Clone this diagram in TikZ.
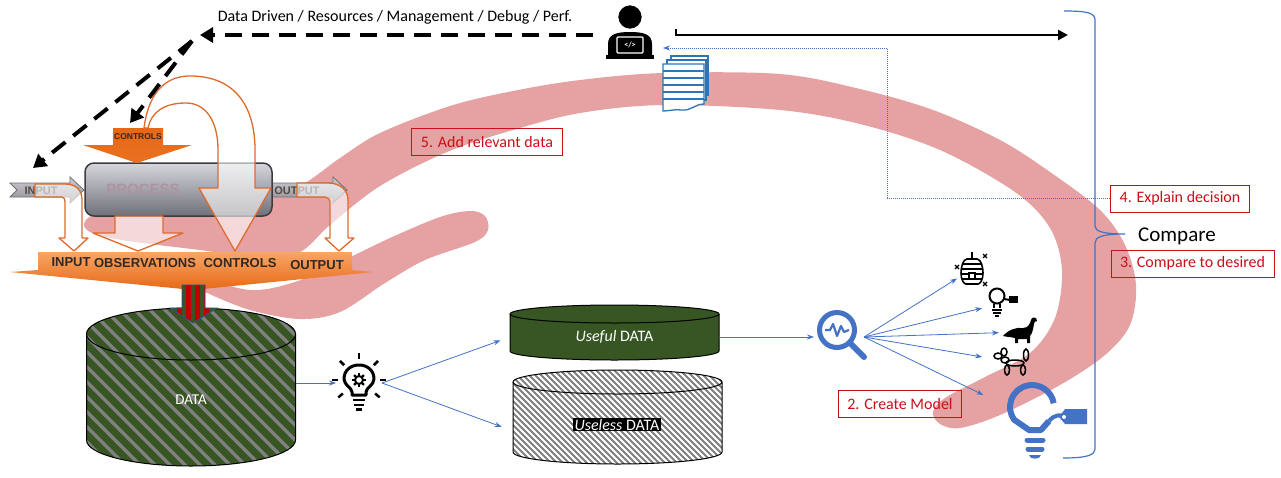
\documentclass[tikz,border=0pt]{standalone}
\usepackage{fontspec}
\setmainfont{Carlito}
\newfontfamily\idefFont{Liberation Sans}
\usepackage{tikz}
\usetikzlibrary{arrows.meta,shapes,backgrounds,calc}

\definecolor{bandPink}{RGB}{230,161,163}
\definecolor{flowBlue}{RGB}{68,114,196}
\definecolor{docBlue}{RGB}{46,117,182}
\definecolor{stepRed}{RGB}{200,16,24}
\definecolor{dataGreen}{RGB}{55,86,35}
\definecolor{stripeGray}{RGB}{128,128,128}
\definecolor{stripeRed}{RGB}{192,0,0}
\definecolor{stripeEdge}{RGB}{47,82,143}
\definecolor{idefText}{RGB}{52,40,34}
\definecolor{hollowOrange}{RGB}{222,106,44}
\definecolor{orangeLight}{RGB}{248,166,102}
\definecolor{orangeDark}{RGB}{230,104,22}
\definecolor{boxTop}{RGB}{214,214,220}
\definecolor{boxBottom}{RGB}{112,112,122}
\definecolor{boxEdge}{RGB}{60,60,64}
\definecolor{processText}{RGB}{172,148,160}
\definecolor{grayLight}{RGB}{205,205,210}
\definecolor{grayDark}{RGB}{140,140,148}

\tikzset{
  flowArrow/.style={draw=flowBlue, line width=0.8pt, -{Stealth[length=7pt,width=5pt]}},
  dashArrow/.style={line width=4pt, dash pattern=on 17pt off 10pt, -{Triangle[length=13pt,width=15pt]}},
  stepLabel/.style={draw=stepRed, line width=1pt, text=stepRed, inner xsep=9pt, inner ysep=0pt,
    minimum height=27pt, font=\fontsize{16}{19}\selectfont},
  iconBox/.style={inner sep=0pt, outer sep=0pt},
  hollowArrow/.style={draw=hollowOrange, line width=1.3pt, fill=white, fill opacity=0.6, line join=round},
  idefLabel/.style={font=\idefFont\bfseries\fontsize{13}{15}\selectfont, text=idefText, inner sep=0pt},
  smallLabel/.style={font=\idefFont\bfseries\fontsize{11}{13}\selectfont, text=idefText!85, inner sep=0pt},
}

\begin{document}
\begin{tikzpicture}[x=1pt,y=-1pt]
    \useasboundingbox (0,0) rectangle (1281,477);
    \fill[white] (0,0) rectangle (1281,477);
    \def\showSwoosh{
      % big curled band in the back
      \fill[bandPink] plot[smooth cycle, tension=0.55] coordinates {
        (84,224) (95,215) (140,213) (200,212) (250,205) (300,186) (340,158)
        (380,133) (450,106) (513,91) (580,80) (663,73) (780,74) (860,89)
        (933,110) (1000,140) (1050,172) (1100,210) (1125,245) (1136,285)
        (1130,325) (1105,355) (1060,385) (1000,415) (960,428) (940,424)
        (933,412) (945,398) (985,377) (1030,353) (1055,318) (1062,270)
        (1050,228) (1015,192) (940,150) (860,124) (780,110) (663,105)
        (580,113) (513,130) (447,152) (380,186) (330,225) (300,252)
        (260,258) (200,250) (150,244) (110,238) (90,232)};
      % lower hook
      \fill[bandPink] plot[smooth cycle, tension=0.55] coordinates {
        (195,276) (250,290) (295,282) (340,262) (390,238) (440,217)
        (470,211) (485,216) (488,230) (475,242) (425,260) (385,283)
        (340,312) (300,319) (250,310) (205,292) (190,283)};
    }
    \def\showSteps{
      \node[font=\fontsize{16}{19}\selectfont, inner sep=0pt] (ddText) at (395,17)
        {Data Driven / Resources / Management / Debug / Perf.};
      \node[stepLabel] (addData) at (487,142) {5. Add relevant data};
      \node[stepLabel] (explain) at (1180,198.5) {4. Explain decision};
      \node[stepLabel] (cmpDesired) at (1192.5,263.5) {3. Compare to desired};
      \node[stepLabel] (createModel) at (900,404) {2. Create Model};
      \node[font=\fontsize{21}{25}\selectfont, inner sep=0pt] (compare) at (1177,236) {Compare};
      % brace
      \draw[flowBlue, line width=1.2pt] (1064,11) .. controls (1088,11) and (1095,13) .. (1095,20)
        -- (1095,226) .. controls (1095,231) and (1102,234) .. (1125,234)
        .. controls (1102,234) and (1095,237) .. (1095,243) -- (1095,449)
        .. controls (1095,455) and (1087,458) .. (1063,458);
    }
    \def\showIdef{
      % input / output arrows
      \shadedraw[top color=grayLight, bottom color=grayDark, draw=grayDark!80!black, line width=0.8pt]
        (10,183) -- (70,183) -- (70,177) -- (84,190) -- (70,203) -- (70,197) -- (10,197) -- (17,190) -- cycle;
      \shadedraw[top color=grayLight, bottom color=grayDark, draw=grayDark!80!black, line width=0.8pt]
        (272,183) -- (333,183) -- (333,177) -- (347,190) -- (333,203) -- (333,197) -- (272,197) -- cycle;
      \node[smallLabel] (inLabel) at (41,191) {INPUT};
      \node[smallLabel] (outLabel) at (297,191) {OUTPUT};
      % process block
      \shadedraw[rounded corners=9pt, top color=boxTop, bottom color=boxBottom, draw=boxEdge, line width=1.5pt]
        (85,163) rectangle (272,216);
      \node[font=\idefFont\bfseries\fontsize{15}{17}\selectfont, text=processText, inner sep=0pt]
        (process) at (143,189) {PROCESS};
      % controls from above
      \shade[top color=orangeDark, bottom color=orangeDark!85!orangeLight]
        (113,128) -- (163,128) -- (163,145) -- (192,145) -- (137,163) -- (83,145) -- (113,145) -- cycle;
      \node[font=\idefFont\bfseries\fontsize{8.5}{10}\selectfont, text=idefText, inner sep=0pt]
        (ctrlSmall) at (138,136.5) {CONTROLS};
      % collecting band
      \shade[top color=orangeLight, bottom color=orangeDark]
        (38,252) -- (352,252) -- (352,270) -- (373,272) -- (193,290) -- (10,272) -- (38,270) -- cycle;
      \node[idefLabel] (inBand) at (71,262) {INPUT};
      \node[idefLabel] (obsBand) at (145,263) {OBSERVATIONS};
      \node[idefLabel] (ctrlBand) at (240,263) {CONTROLS};
      \node[idefLabel] (outBand) at (317,265) {OUTPUT};
      % hollow arrows into the band
      \path[hollowArrow] (35,184) -- (65,184) .. controls (76,184) and (82,190) .. (82,200) -- (82,238)
        -- (88,238) -- (74,251) -- (59,238) -- (65,238) -- (65,202) .. controls (65,199) and (64,197) .. (62,197)
        -- (35,197) -- cycle;
      \path[hollowArrow] (115,216) -- (163,216) -- (163,233) -- (183,233) -- (138,251) -- (93,233) -- (115,233) -- cycle;
      \path[hollowArrow] (144,128) .. controls (150,82) and (175,76) .. (190,76) .. controls (238,76) and (255,110) .. (255,150)
        -- (255,188) -- (271,188) -- (235,251) -- (199,188) -- (218,188) -- (218,150)
        .. controls (218,120) and (205,103) .. (186,103) .. controls (163,103) and (151,113) .. (148,128) -- cycle;
      \path[hollowArrow] (297,183) -- (328,183) .. controls (340,183) and (348,190) .. (348,200) -- (348,238)
        -- (354,238) -- (339,251) -- (325,238) -- (330,238) -- (330,203) .. controls (330,199) and (328,197) .. (325,197)
        -- (297,197) -- cycle;
    }
    \def\showData{
      % raw data store
      \begin{scope}
        \clip (86.5,334) -- (86.5,440) arc[start angle=180, end angle=0, x radius=104.5, y radius=26]
          -- (295.5,334) arc[start angle=0, end angle=-180, x radius=104.5, y radius=26] -- cycle;
        \fill[dataGreen] (80,300) rectangle (300,470);
        \foreach \k in {-100,-85,...,300}
          \draw[stripeGray, line width=3.5pt] (\k,300) -- ++(180,180);
      \end{scope}
      \draw[line width=1pt] (86.5,334) -- (86.5,440) arc[start angle=180, end angle=0, x radius=104.5, y radius=26]
        -- (295.5,334) arc[start angle=0, end angle=-180, x radius=104.5, y radius=26] -- cycle;
      \draw[line width=1pt] (86.5,334) arc[start angle=180, end angle=0, x radius=104.5, y radius=26];
      \node[iconBox, minimum width=209pt, minimum height=132pt, text=white, font=\fontsize{15}{18}\selectfont]
        (data) at (191,400) {DATA};
      % feed arrow into the store
      \begin{scope}
        \clip (182,285) -- (205,285) -- (205,308) -- (217,308) -- (193,323) -- (170,308) -- (182,308) -- cycle;
        \fill[dataGreen] (165,280) rectangle (220,325);
        \foreach \x in {177,186,195,204}
          \fill[stripeRed] (\x,280) rectangle (\x+4.5,325);
      \end{scope}
      \draw[stripeEdge, line width=0.8pt] (182,285) -- (205,285) -- (205,308) -- (217,308) -- (193,323)
        -- (170,308) -- (182,308) -- cycle;
      % useful store
      \filldraw[fill=dataGreen, line width=1pt] (510,314) -- (510,351)
        arc[start angle=180, end angle=0, x radius=104.5, y radius=9]
        -- (719,314) arc[start angle=0, end angle=-180, x radius=104.5, y radius=9] -- cycle;
      \draw[line width=1pt] (510,314) arc[start angle=180, end angle=0, x radius=104.5, y radius=9];
      \node[iconBox, minimum width=209pt, minimum height=55pt, text=white, font=\fontsize{16}{19}\selectfont]
        (useful) at (614.5,337) {\textit{Useful} DATA};
      % useless store
      \begin{scope}
        \clip (513,382) -- (513,452) arc[start angle=180, end angle=0, x radius=104.5, y radius=12]
          -- (722,382) arc[start angle=0, end angle=-180, x radius=104.5, y radius=12] -- cycle;
        \fill[white] (505,365) rectangle (730,470);
        \foreach \k in {-110,-104,...,730}
          \draw[stripeGray, line width=1.8pt] (\k,360) -- ++(115,115);
      \end{scope}
      \draw[line width=1pt] (513,382) -- (513,452) arc[start angle=180, end angle=0, x radius=104.5, y radius=12]
        -- (722,382) arc[start angle=0, end angle=-180, x radius=104.5, y radius=12] -- cycle;
      \draw[line width=1pt] (513,382) arc[start angle=180, end angle=0, x radius=104.5, y radius=12];
      \node[iconBox, minimum width=209pt, minimum height=82pt] (uselessCyl) at (617.5,417) {};
      \node[fill=black, text=white, inner xsep=2pt, inner ysep=1pt, font=\fontsize{16}{19}\selectfont]
        (useless) at (617,424.5) {\textit{Useless} DATA};
    }
    \def\showIcons{
      % coder at the laptop
      \node[iconBox, minimum width=48pt, minimum height=56pt] (coder) at (630,31) {};
      \begin{scope}[shift={(coder.center)}]
        \fill (-22,25) -- (-22,13) .. controls (-22,3) and (-13,1) .. (0,1) .. controls (13,1) and (22,3) .. (22,13) -- (22,25) -- cycle;
        \filldraw[draw=white, line width=1.5pt] (0,-14) circle (12.5);
        \draw[white, line width=1.2pt, rounded corners=1pt] (-13,6) rectangle (13,22);
        \node[text=white, font=\bfseries\fontsize{8}{8}\selectfont, inner sep=0pt] (coderGlyph) at (0,14) {</>};
        \fill (-24,23.5) rectangle (24,28);
      \end{scope}
      % report pages
      \node[iconBox, minimum width=46pt, minimum height=56pt] (docs) at (685,83) {};
      \begin{scope}[shift={(docs.center)}, docBlue, line width=1.3pt]
        \filldraw[fill=white] (-14,-27) rectangle (23,12);
        \filldraw[fill=white] (-18,-23) rectangle (21,17);
        \filldraw[fill=white] (-22,-19) -- (19,-19) -- (19,21) .. controls (10,21) and (6,28) .. (-3,27)
          .. controls (-10,26) and (-16,28) .. (-22,28) -- cycle;
        \foreach \y in {-12,-5,2,9,16}
          \draw (-22,\y) -- (19,\y);
      \end{scope}
      % idea with gear
      \node[iconBox, minimum width=46pt, minimum height=60pt] (ideaGear) at (359,383) {};
      \begin{scope}[shift={(ideaGear.center)}]
        \draw[line width=3pt, line join=round] (-7,12) -- (-7,9) .. controls (-7,5) and (-15,2) .. (-15,-4)
          .. controls (-15,-13) and (-8,-18) .. (0,-18) .. controls (8,-18) and (15,-13) .. (15,-4)
          .. controls (15,2) and (7,5) .. (7,9) -- (7,12) -- cycle;
        \draw[line width=2.5pt] (-6,17) -- (6,17) (-5,22) -- (5,22);
        \fill (-3,25) rectangle (3,28);
        \begin{scope}[shift={(0,-3)}]
          \foreach \a in {0,45,90,135,180,220,320}
            \draw[line width=2.5pt] (-\a:21) -- (-\a:27);
          \draw[line width=2pt] (0,0) circle (4);
          \foreach \a in {0,45,...,315}
            \draw[line width=2.2pt] (\a:4) -- (\a:7);
        \end{scope}
      \end{scope}
      % model inspection
      \node[iconBox, minimum size=44pt] (magnif) at (842,337) {};
      \begin{scope}[shift={(magnif.center)}, flowBlue]
        \draw[line width=5pt] (-5,-7) circle (17.5);
        \draw[line width=6pt, line cap=round] (8,6) -- (22,20);
        \draw[line width=2.2pt, line join=round] (-17,-7) -- (-12,-7) -- (-9,-13) -- (-5,-1) -- (-1,-11) -- (2,-5) -- (7,-7);
      \end{scope}
      % candidate outcomes
      \node[iconBox, minimum width=30pt, minimum height=36pt] (hive) at (972,269) {};
      \begin{scope}[shift={(hive.center)}, line width=1.6pt]
        \draw (0,-17) -- (0,-10);
        \begin{scope}
          \clip (-5,-10) -- (5,-10) .. controls (9,-10) and (11,-2) .. (11,4) .. controls (11,11) and (8,15) .. (6,15)
            -- (-6,15) .. controls (-8,15) and (-11,11) .. (-11,4) .. controls (-11,-2) and (-9,-10) .. (-5,-10) -- cycle;
          \foreach \y in {-5,0,5,10}
            \draw (-12,\y) -- (12,\y);
        \end{scope}
        \draw (-5,-10) -- (5,-10) .. controls (9,-10) and (11,-2) .. (11,4) .. controls (11,11) and (8,15) .. (6,15)
          -- (-6,15) .. controls (-8,15) and (-11,11) .. (-11,4) .. controls (-11,-2) and (-9,-10) .. (-5,-10) -- cycle;
        \filldraw[fill=white] (-3,4) rectangle (3,10);
        \foreach \p in {(-15,-2),(13,-13),(13,15)}
          \draw[line width=1.2pt, shift={\p}] (-2,-2) -- (2,2) (-2,2) -- (2,-2);
      \end{scope}
      \node[iconBox, minimum width=30pt, minimum height=32pt] (smallBulb) at (1003,303) {};
      \begin{scope}[shift={(smallBulb.center)}, line width=2pt]
        \draw (-6,-7) circle (7.5);
        \draw (-9,1) -- (-9,5) (-3,1) -- (-3,5);
        \draw (-11,7) -- (-1,7) (-10,10) -- (-2,10) (-8,13) -- (-4,13);
        \draw (1,-4) -- (7,-3);
        \fill (6,-7) rectangle (15,0);
      \end{scope}
      \node[iconBox, minimum width=36pt, minimum height=26pt] (dino) at (1020,332) {};
      \begin{scope}[shift={(dino.center)}]
        \fill (-17,4) .. controls (-12,-2) and (-4,-5) .. (3,-4) .. controls (8,-4) and (10,-8) .. (11,-12)
          .. controls (12,-15) and (14,-15) .. (16,-14) -- (17,-11) .. controls (15,-11) and (14,-10) .. (14,-8)
          .. controls (13,-2) and (12,2) .. (10,4) -- (10,11) -- (7,11) -- (7,7) -- (-2,7) -- (-2,11) -- (-5,11)
          -- (-5,6) .. controls (-9,5) and (-13,5) .. (-17,4) -- cycle;
      \end{scope}
      \node[iconBox, minimum width=40pt, minimum height=30pt] (balloon) at (1012,362) {};
      \begin{scope}[shift={(balloon.center)}, line width=1.5pt]
        \draw (-14,-6) ellipse (4 and 3);
        \draw (-8,-10) ellipse (3 and 4);
        \draw (-7,-2) ellipse (4 and 3);
        \draw (3,1) ellipse (9 and 3);
        \draw (-5,8) ellipse (2.5 and 5);
        \draw (11,8) ellipse (2.5 and 5);
        \draw (14,-7) ellipse (2.5 and 6);
      \end{scope}
      \node[iconBox, minimum width=60pt, minimum height=82pt] (bigBulb) at (1035,420) {};
      \begin{scope}[shift={(bigBulb.center)}, flowBlue]
        \draw[line width=6pt, line join=round] (18.7,-16.8) arc[start angle=-10, end angle=-215, radius=22]
          -- (-6,10) -- (6,10) -- (13.9,1.1);
        \draw[line width=5pt, line cap=round] (-8,20) -- (8,20) (-7,29) -- (7,29);
        \fill (-6,35) -- (6,35) .. controls (6,40) and (-6,40) .. (-6,35) -- cycle;
        \draw[line width=4pt] (13.9,1.1) .. controls (20,-6) and (25,-5) .. (30,-4);
        \fill (30,-11) -- (52,-11) -- (52,4) -- (30,4) -- (24,-3) -- cycle;
        \fill[white] (29,-3) circle (2);
      \end{scope}
    }
    \def\showLinks{
      \coordinate (hub) at (200,35);
      \coordinate (hubFoot) at (192,41);
      \coordinate (inTarget) at (33,168);
      \coordinate (ctrlTarget) at (130,123);
      \coordinate (codeTick) at (676,29);
      \coordinate (cmpTop) at (1068,35);
      \coordinate (fbCorner) at (887,48);
      \coordinate (fbTip) at (663,48);
      % dashed feedback to the process
      \draw[dashArrow, shorten <=13pt] (coder.west |- hub) -- (hub);
      \draw[dashArrow] (hubFoot) -- (inTarget);
      \draw[dashArrow] (hubFoot) -- (ctrlTarget);
      % output of the coder
      \draw[line width=2.5pt, -{Triangle[length=10pt,width=10pt]}] (codeTick) |- (cmpTop);
      \draw[flowBlue, line width=1pt, dash pattern=on 1pt off 1pt, -{Stealth[length=7pt,width=5pt]}]
        (explain.west) -| (fbCorner) -- (fbTip);
      % data flow
      \draw[flowArrow] (data.east |- ideaGear.west) -- (ideaGear.west);
      \draw[flowArrow, shorten >=10pt] (ideaGear.east) -- (useful.west);
      \draw[flowArrow, shorten >=12pt] (ideaGear.east) -- ($(uselessCyl.west)+(0,14)$);
      \draw[flowArrow, shorten >=6pt] (useful.east) -- (magnif.west);
      \draw[flowArrow] (magnif.east) -- (hive);
      \draw[flowArrow, shorten >=6pt] (magnif.east) -- (smallBulb);
      \draw[flowArrow, shorten >=3pt] (magnif.east) -- (dino);
      \draw[flowArrow, shorten >=10pt] (magnif.east) -- (balloon);
      \draw[flowArrow, shorten >=24pt] (magnif.east) -- (bigBulb);
    }
    \showSwoosh
    \showSteps
    \showIdef
    \showData
    \showIcons
    \showLinks
\end{tikzpicture}
\end{document}
